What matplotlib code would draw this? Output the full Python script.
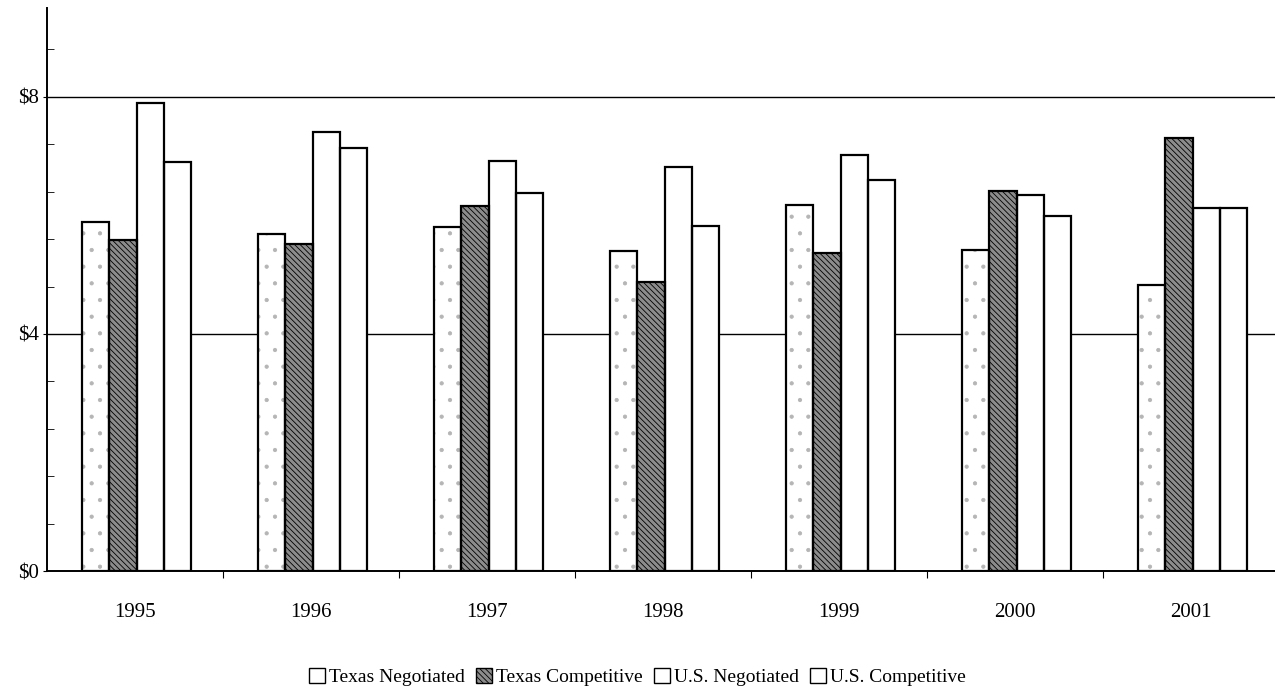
import matplotlib.pyplot as plt
import numpy as np
from matplotlib.patches import Patch
from matplotlib.ticker import MultipleLocator

plt.rcParams['font.family'] = ['Liberation Serif', 'DejaVu Serif']

years = ['1995', '1996', '1997', '1998', '1999', '2000', '2001']
texas_negotiated = [5.89, 5.69, 5.80, 5.40, 6.17, 5.41, 4.82]
texas_competitive = [5.59, 5.51, 6.16, 4.87, 5.37, 6.42, 7.31]
us_negotiated = [7.90, 7.41, 6.92, 6.82, 7.02, 6.35, 6.12]
us_competitive = [6.90, 7.13, 6.37, 5.82, 6.59, 5.99, 6.13]
series_labels = ['Texas Negotiated', 'Texas Competitive', 'U.S. Negotiated', 'U.S. Competitive']

fig = plt.figure(figsize=(12.75, 6.91), dpi=100)
ax = fig.add_axes([47 / 1275, 120 / 691, 7 * 176 / 1275, 563 / 691])

x = np.arange(len(years))
w = 0.155
offsets = np.array([-1.5, -0.5, 0.5, 1.5]) * w + 0.01
series = [texas_negotiated, texas_competitive, us_negotiated, us_competitive]
fills = [('white', '.', '#b5b5b5'), ('#8c8c8c', '\\\\\\\\\\\\', 'black'),
         ('white', None, None), ('white', None, None)]

plt.rcParams['hatch.linewidth'] = 0.6
for vals, off, (fc, hatch, hc) in zip(series, offsets, fills):
    ax.bar(x + off, vals, w, color=fc, edgecolor='none', zorder=2)
    if hatch:
        # hatch drawn separately so its colour can differ from the outline
        ax.bar(x + off, vals, w, color='none', edgecolor=hc, hatch=hatch,
               linewidth=0, zorder=3)
    ax.bar(x + off, vals, w, color='none', edgecolor='black', linewidth=1.6, zorder=4)

ax.set_xlim(-0.5, 6.5)
ax.set_ylim(0, 9.5)

for yv in [4, 8]:
    ax.axhline(yv, color='black', linewidth=1.0, zorder=1)

ax.set_yticks([0, 4, 8])
ax.set_yticklabels([r'\$0', r'\$4', r'\$8'], fontsize=15)
ax.yaxis.set_minor_locator(MultipleLocator(0.8))
ax.tick_params(axis='y', which='major', length=3, direction='out', pad=3)
ax.tick_params(axis='y', which='minor', length=5, direction='in')

ax.set_xticks(np.arange(0.5, 6.5, 1.0))
ax.set_xticklabels([])
ax.set_xticks(x, minor=True)
ax.set_xticklabels(years, minor=True, fontsize=15)
ax.tick_params(axis='x', which='major', length=5, direction='out')
ax.tick_params(axis='x', which='minor', length=0, pad=23)

for side in ['top', 'right']:
    ax.spines[side].set_visible(False)
ax.spines['left'].set_linewidth(1.4)
ax.spines['bottom'].set_linewidth(1.4)

handles = [
    Patch(facecolor='white', edgecolor='black', linewidth=1.0),
    Patch(facecolor='#8c8c8c', edgecolor='black', hatch='\\\\\\\\\\\\', linewidth=1.0),
    Patch(facecolor='white', edgecolor='black', linewidth=1.0),
    Patch(facecolor='white', edgecolor='black', linewidth=1.0),
]
fig.legend(handles, series_labels, loc='center', bbox_to_anchor=(0.5, 14 / 691),
           ncol=4, frameon=False, fontsize=14, handlelength=0.8, handleheight=0.8,
           handletextpad=0.2, columnspacing=0.6)

fig.savefig('out.png', dpi=100)
